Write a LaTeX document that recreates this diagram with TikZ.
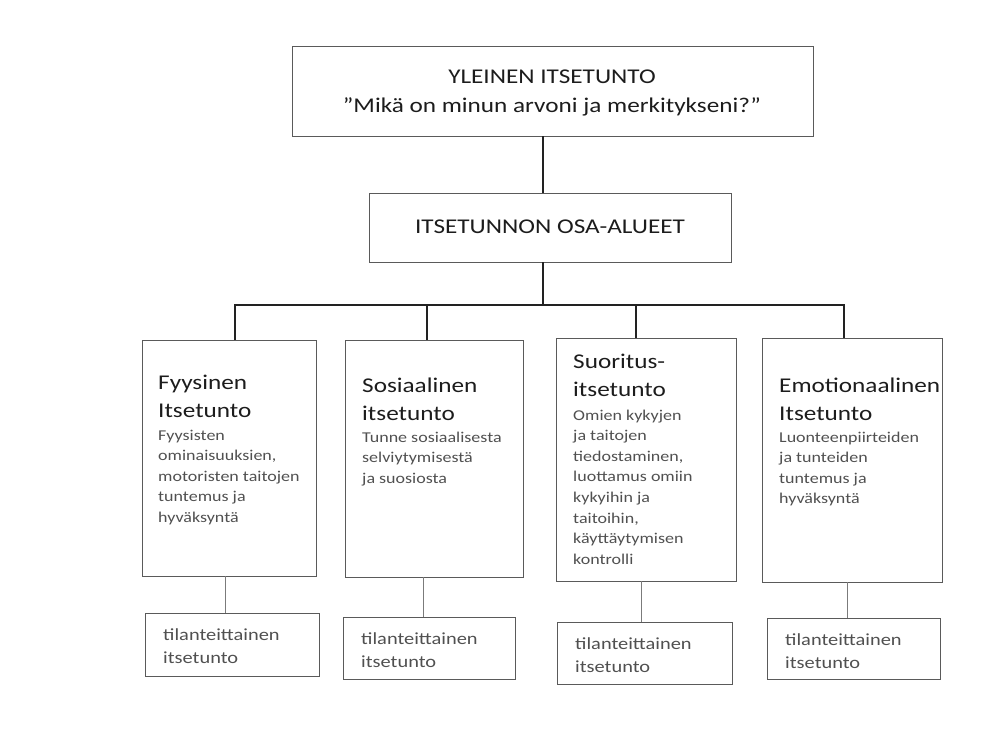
\documentclass[tikz,border=0pt]{standalone}
\usepackage{fontspec}
\setmainfont{Carlito}[FakeStretch=1.2]
\definecolor{boxline}{HTML}{5A5A5A}
\definecolor{conn}{HTML}{222222}
\definecolor{headtxt}{HTML}{1C1C1C}
\definecolor{bodytxt}{HTML}{505050}
\begin{document}
\begin{tikzpicture}[x=1pt,y=-1pt,
  box/.style={draw=boxline,line width=0.9pt,inner sep=0pt,outer sep=0pt,anchor=north west},
  topconn/.style={draw=conn,line width=1.5pt},
  lowconn/.style={draw=boxline!80,line width=0.8pt},
  toptxt/.style={inner sep=0pt,anchor=base,align=center,text=headtxt,font=\fontsize{21}{29}\selectfont},
  headtxtst/.style={inner sep=0pt,anchor=base west,align=left,text=headtxt,font=\fontsize{21}{28}\selectfont},
  bodytxtst/.style={inner sep=0pt,anchor=base west,align=left,text=bodytxt,font=\fontsize{15}{20.6}\selectfont},
  lowtxt/.style={inner sep=0pt,anchor=base west,align=left,text=bodytxt,font=\fontsize{17}{23}\selectfont}]
\useasboundingbox (0,0) rectangle (995,729);

% boxes
\node[box,minimum width=521pt,minimum height=90pt] (top) at (292,46) {};
\node[box,minimum width=362pt,minimum height=69pt] (mid) at (369,193) {};
\node[box,minimum width=174pt,minimum height=236pt] (b1) at (142,340) {};
\node[box,minimum width=178pt,minimum height=237pt] (b2) at (345,340) {};
\node[box,minimum width=180pt,minimum height=243pt] (b3) at (556,338) {};
\node[box,minimum width=180pt,minimum height=244pt] (b4) at (762,338) {};
\node[box,minimum width=174pt,minimum height=63pt] (l1) at (145,613) {};
\node[box,minimum width=172pt,minimum height=62pt] (l2) at (343,617) {};
\node[box,minimum width=175pt,minimum height=62pt] (l3) at (557,622) {};
\node[box,minimum width=173pt,minimum height=61pt] (l4) at (767,618) {};

% texts (anchor = baseline of the last line)
\node[toptxt] (toptitle) at (552,112) {YLEINEN ITSETUNTO\\”Mikä on minun arvoni ja merkitykseni?”};
\node[toptxt] (midtitle) at (550,233) {ITSETUNNON OSA-ALUEET};

\node[headtxtst] (h1) at (158,417) {Fyysinen\\Itsetunto};
\node[bodytxtst] (t1) at (158,522.4) {Fyysisten\\ominaisuuksien,\\motoristen taitojen\\tuntemus ja\\hyväksyntä};

\node[headtxtst] (h2) at (362,420) {Sosiaalinen\\itsetunto};
\node[bodytxtst] (t2) at (362,483.2) {Tunne sosiaalisesta\\selviytymisestä\\ja suosiosta};

\node[headtxtst] (h3) at (573,396) {Suoritus-\\itsetunto};
\node[bodytxtst] (t3) at (573,564.2) {Omien kykyjen\\ja taitojen\\tiedostaminen,\\luottamus omiin\\kykyihin ja\\taitoihin,\\käyttäytymisen\\kontrolli};

\node[headtxtst] (h4) at (779,420) {Emotionaalinen\\Itsetunto};
\node[bodytxtst] (t4) at (779,503.8) {Luonteenpiirteiden\\ja tunteiden\\tuntemus ja\\hyväksyntä};

\node[lowtxt] (s1) at (163,663) {tilanteittainen\\itsetunto};
\node[lowtxt] (s2) at (361,667) {tilanteittainen\\itsetunto};
\node[lowtxt] (s3) at (575,672) {tilanteittainen\\itsetunto};
\node[lowtxt] (s4) at (785,668) {tilanteittainen\\itsetunto};

% connector coordinates
\coordinate (j0) at (543,305);
\coordinate (hl) at (235,305);
\coordinate (hm2) at (427,305);
\coordinate (hm3) at (636,305);
\coordinate (hr) at (844,305);
\coordinate (d1) at (225,600);
\coordinate (d2) at (423,600);
\coordinate (d3) at (641,600);
\coordinate (d4) at (847,600);

% top connectors
\draw[topconn] (top.south -| j0) -- (mid.north -| j0);
\draw[topconn] (mid.south -| j0) -- (j0);
\draw[topconn] (b1.north -| hl) -- (hl) -- (hr) -- (b4.north -| hr);
\draw[topconn] (hm2) -- (b2.north -| hm2);
\draw[topconn] (hm3) -- (b3.north -| hm3);

% lower connectors
\draw[lowconn] (b1.south -| d1) -- (l1.north -| d1);
\draw[lowconn] (b2.south -| d2) -- (l2.north -| d2);
\draw[lowconn] (b3.south -| d3) -- (l3.north -| d3);
\draw[lowconn] (b4.south -| d4) -- (l4.north -| d4);
\end{tikzpicture}
\end{document}
